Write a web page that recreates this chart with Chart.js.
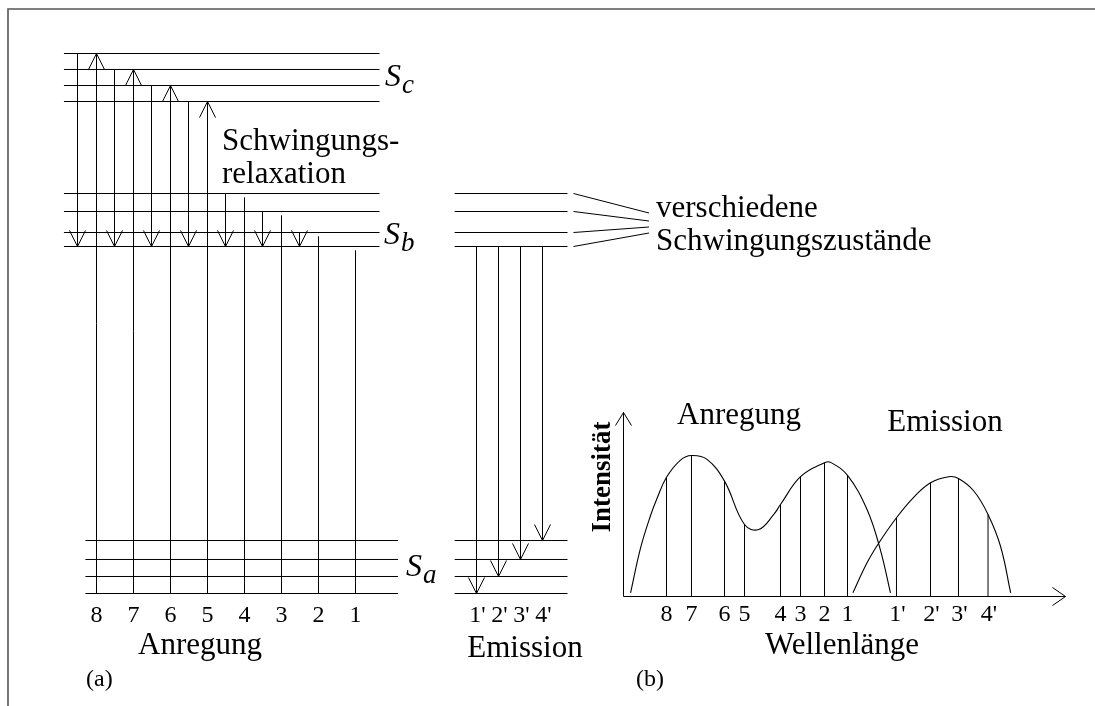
<!DOCTYPE html>
<html>
<head>
<meta charset="utf-8">
<title>Anregung und Emission</title>
<script src="https://cdn.jsdelivr.net/npm/chart.js@4.4.1/dist/chart.umd.min.js"></script>
<style>
  html, body { margin: 0; padding: 0; background: #fff; }
  #wrap { position: relative; width: 1095px; height: 706px; overflow: hidden; }
  #wrap canvas { position: absolute; left: 0; top: 0; }
</style>
</head>
<body>
<div id="wrap">
  <canvas id="levels" width="1095" height="706"></canvas>
  <canvas id="spectrum" width="1095" height="706"></canvas>
</div>
<script>
// ---------- Data: energy level scheme (arbitrary energy units) ----------
// vibrational levels v = 0..3 of each electronic state
const groundLevels = [0, 3.15, 6.30, 9.81];         // S_a
const firstLevels  = [64.26, 66.85, 70.74, 74.07];  // S_b
const secondLevels = [91.11, 94.07, 97.04, 100];    // S_c

// absorption transitions 8 ... 1, all starting from S_a (v = 0)
const excitationLabels = ['8', '7', '6', '5', '4', '3', '2', '1'];
const excitationState  = ['S_c', 'S_c', 'S_c', 'S_c', 'S_b', 'S_b', 'S_b', 'S_b'];
const excitationVib    = [3, 2, 1, 0, 3, 2, 1, 0];

// emission transitions 1' ... 4', all from S_b (v = 0) into S_a (v)
const emissionLabels = ["1'", "2'", "3'", "4'"];
const emissionVib    = [0, 1, 2, 3];

// ---------- Data: spectra (wavelength, intensity in arbitrary units) ----------
const anregungLambda    = [1.6, 3.85, 6.1, 7.6, 9.73, 12.9, 15.38, 18.9, 22.85, 27.38, 30.6, 34.0, 35.52, 40.05, 45.48, 46.8, 50.68, 55.1, 58.1, 60.4];
const anregungIntensity = [2.0, 26.3, 43.9, 53.4, 64.8, 74.1, 76.6, 74.5, 62.7, 39.1, 36.4, 44.6, 50.0, 65.1, 72.7, 73.0, 65.8, 47.3, 25.5, 2.0];
const emissionLambda    = [51.9, 55.1, 57.8, 61.76, 65.7, 69.46, 73.6, 75.79, 79.3, 82.47, 85.3, 87.6];
const emissionIntensity = [2.0, 18.3, 29.2, 42.8, 54.0, 61.8, 65.1, 64.1, 57.2, 44.6, 27.3, 2.0];

// individual bands drawn under the spectra
const excitationBandLambda    = [9.73, 15.38, 22.85, 27.38, 35.52, 40.05, 45.48, 50.68];
const excitationBandIntensity = [64.8, 76.6, 62.7, 39.1, 50.0, 65.1, 72.7, 65.8];
const emissionBandLambda      = [61.76, 69.46, 75.79, 82.47];
const emissionBandIntensity   = [42.8, 61.8, 64.1, 44.6];

// ---------- Drawing setup ----------
const SERIF = '"Liberation Serif", "Times New Roman", serif';
const INK = '#000';
const levelsOf = { S_a: groundLevels, S_b: firstLevels, S_c: secondLevels };

// horizontal layout of the level scheme, in column units (one column per absorption line)
const COL_PX = 37;
const UPPER_SPAN  = [-0.88, 7.65];
const GROUND_SPAN = [-0.30, 8.15];
const EMIT_SPAN   = [9.68, 12.73];
const EMIT_X0 = 380 / COL_PX, EMIT_STEP = 22 / COL_PX;
const RELAX_SHIFT = -19 / COL_PX;
const OPEN_END_GAP = 0.7;   // absorption lines without arrowhead stop just below their level

function seg(x1, y1, x2, y2, width) {
  return {
    data: [{ x: x1, y: y1 }, { x: x2, y: y2 }],
    showLine: true, borderColor: INK, borderWidth: width || 1,
    pointRadius: 0, clip: false, tension: 0
  };
}

function text(ctx, s, x, y, font, align) {
  ctx.font = font;
  ctx.textAlign = align || 'left';
  ctx.textBaseline = 'alphabetic';
  ctx.fillStyle = INK;
  ctx.fillText(s, x, y);
}

function stateLabel(ctx, sub, x, y) {
  text(ctx, 'S', x, y, 'italic 32px ' + SERIF);
  const w = ctx.measureText('S').width;
  text(ctx, sub, x + w + 1, y + 7, 'italic 27px ' + SERIF);
}

function arrowHead(ctx, px, py, dir, len, half) {
  ctx.beginPath();
  if (dir === 'up')    { ctx.moveTo(px - half, py + len); ctx.lineTo(px, py); ctx.lineTo(px + half, py + len); }
  if (dir === 'down')  { ctx.moveTo(px - half, py - len); ctx.lineTo(px, py); ctx.lineTo(px + half, py - len); }
  if (dir === 'right') { ctx.moveTo(px - len, py - half); ctx.lineTo(px, py); ctx.lineTo(px - len, py + half); }
  ctx.stroke();
}

// ---------- Panel (a): level scheme ----------
const levelSets = [];
[secondLevels, firstLevels].forEach(lv => lv.forEach(e => levelSets.push(seg(UPPER_SPAN[0], e, UPPER_SPAN[1], e))));
groundLevels.forEach(e => levelSets.push(seg(GROUND_SPAN[0], e, GROUND_SPAN[1], e)));
firstLevels.forEach(e => levelSets.push(seg(EMIT_SPAN[0], e, EMIT_SPAN[1], e)));
groundLevels.forEach(e => levelSets.push(seg(EMIT_SPAN[0], e, EMIT_SPAN[1], e)));

const arrowsA = [];
excitationLabels.forEach((lab, i) => {
  const target = levelsOf[excitationState[i]][excitationVib[i]];
  const withHead = excitationState[i] === 'S_c';
  levelSets.push(seg(i, groundLevels[0], i, withHead ? target : target - OPEN_END_GAP));
  if (withHead) arrowsA.push({ x: i, y: target, dir: 'up' });
  // vibrational relaxation down to S_b (v = 0)
  if (target > firstLevels[0]) {
    levelSets.push(seg(i + RELAX_SHIFT, target, i + RELAX_SHIFT, firstLevels[0]));
    arrowsA.push({ x: i + RELAX_SHIFT, y: firstLevels[0], dir: 'down' });
  }
});
emissionLabels.forEach((lab, j) => {
  const x = EMIT_X0 + j * EMIT_STEP;
  const target = groundLevels[emissionVib[j]];
  levelSets.push(seg(x, firstLevels[0], x, target));
  arrowsA.push({ x: x, y: target, dir: 'down' });
});

const schemeDecor = {
  id: 'schemeDecor',
  beforeDraw(chart) {
    const ctx = chart.ctx;
    ctx.save();
    ctx.strokeStyle = '#555';
    ctx.lineWidth = 1.6;
    ctx.beginPath();
    ctx.moveTo(8, 706); ctx.lineTo(8, 9); ctx.lineTo(1095, 9);
    ctx.stroke();
    ctx.restore();
  },
  afterDraw(chart) {
    const ctx = chart.ctx, xs = chart.scales.x, ys = chart.scales.y;
    ctx.save();
    ctx.strokeStyle = INK;
    ctx.lineWidth = 1;
    arrowsA.forEach(a => arrowHead(ctx, xs.getPixelForValue(a.x), ys.getPixelForValue(a.y), a.dir, 16, 8));

    // leader lines from the S_b levels of the emission column to the caption
    const xL = xs.getPixelForValue(EMIT_SPAN[1]) + 6;
    const capX = 656;
    const ends = [213, 221, 227, 233];
    firstLevels.slice().reverse().forEach((e, k) => {
      ctx.beginPath();
      ctx.moveTo(xL, ys.getPixelForValue(e));
      ctx.lineTo(capX - 7, ends[k]);
      ctx.stroke();
    });

    stateLabel(ctx, 'c', 385, 86);
    stateLabel(ctx, 'b', 384, 244);
    stateLabel(ctx, 'a', 406, 576);

    const big = '31px ' + SERIF;
    text(ctx, 'Schwingungs-', 222, 150, big);
    text(ctx, 'relaxation', 222, 183, big);
    text(ctx, 'verschiedene', capX, 217, big);
    text(ctx, 'Schwingungszustände', capX, 250, big);

    const tick = '24px ' + SERIF;
    excitationLabels.forEach((lab, i) => text(ctx, lab, xs.getPixelForValue(i), 622, tick, 'center'));
    emissionLabels.forEach((lab, j) => text(ctx, lab, xs.getPixelForValue(EMIT_X0 + j * EMIT_STEP) + 1, 622, tick, 'center'));

    text(ctx, 'Anregung', 200, 654, big, 'center');
    text(ctx, 'Emission', 525, 657, big, 'center');
    text(ctx, '(a)', 86, 686, '24px ' + SERIF);
    ctx.restore();
  }
};

new Chart(document.getElementById('levels'), {
  type: 'scatter',
  data: { datasets: levelSets },
  options: {
    responsive: false, animation: false, events: [],
    layout: { padding: { left: 96.5, right: 1095 - 96.5 - 7 * COL_PX, top: 53.5, bottom: 112.5 } },
    scales: {
      x: { type: 'linear', min: 0, max: 7, display: false },
      y: { type: 'linear', min: 0, max: 100, display: false }
    },
    plugins: { legend: { display: false }, tooltip: { enabled: false } }
  },
  plugins: [schemeDecor]
});

// ---------- Panel (b): spectra ----------
function curve(xs, ys) {
  return {
    data: xs.map((x, i) => ({ x: x, y: ys[i] })),
    showLine: true, borderColor: INK, borderWidth: 1.1,
    pointRadius: 0, clip: false, tension: 0.4
  };
}
const spectrumSets = [
  curve(anregungLambda, anregungIntensity),
  curve(emissionLambda, emissionIntensity)
];
excitationBandLambda.forEach((l, i) => spectrumSets.push(seg(l, 0, l, excitationBandIntensity[i])));
emissionBandLambda.forEach((l, i) => spectrumSets.push(seg(l, 0, l, emissionBandIntensity[i])));

const spectrumDecor = {
  id: 'spectrumDecor',
  afterDraw(chart) {
    const ctx = chart.ctx, xs = chart.scales.x, ys = chart.scales.y;
    const x0 = xs.getPixelForValue(0), y0 = ys.getPixelForValue(0);
    const x1 = xs.getPixelForValue(100), y1 = ys.getPixelForValue(100);
    ctx.save();
    ctx.strokeStyle = INK;
    ctx.lineWidth = 1;
    ctx.beginPath();
    ctx.moveTo(x0, y1); ctx.lineTo(x0, y0); ctx.lineTo(x1, y0);
    ctx.stroke();
    arrowHead(ctx, x0, y1, 'up', 13, 8);
    arrowHead(ctx, x1, y0, 'right', 13, 9);

    const tick = '24px ' + SERIF;
    excitationBandLambda.forEach((l, i) => text(ctx, excitationLabels[i], xs.getPixelForValue(l), 621, tick, 'center'));
    emissionBandLambda.forEach((l, j) => text(ctx, emissionLabels[j], xs.getPixelForValue(l) + 1, 621, tick, 'center'));

    const big = '31px ' + SERIF;
    text(ctx, 'Anregung', 739, 424, big, 'center');
    text(ctx, 'Emission', 945, 431, big, 'center');
    text(ctx, 'Wellenlänge', 842, 654, big, 'center');
    text(ctx, '(b)', 636, 686, '24px ' + SERIF);

    ctx.translate(603, 477);
    ctx.rotate(-Math.PI / 2);
    ctx.font = 'bold 27px ' + SERIF;
    ctx.textAlign = 'center';
    ctx.textBaseline = 'middle';
    ctx.fillStyle = INK;
    ctx.fillText('Intensität', 0, 0);
    ctx.restore();
  }
};

new Chart(document.getElementById('spectrum'), {
  type: 'scatter',
  data: { datasets: spectrumSets },
  options: {
    responsive: false, animation: false, events: [],
    layout: { padding: { left: 623.5, right: 1095 - 623.5 - 442, top: 412.5, bottom: 109.5 } },
    scales: {
      x: { type: 'linear', min: 0, max: 100, display: false },
      y: { type: 'linear', min: 0, max: 100, display: false }
    },
    plugins: { legend: { display: false }, tooltip: { enabled: false } }
  },
  plugins: [spectrumDecor]
});
</script>
</body>
</html>
